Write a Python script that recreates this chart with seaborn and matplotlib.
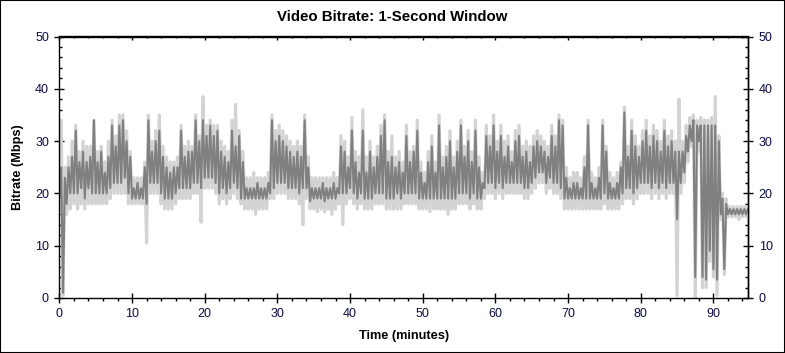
import numpy as np
import pandas as pd
import matplotlib
matplotlib.use("Agg")
import matplotlib.pyplot as plt
import seaborn as sns
from matplotlib.ticker import MultipleLocator
from matplotlib.patches import Rectangle

# ---- data: 0.5-minute bins starting at t = 0.0 ----
bin_minutes = 0.5

dark_hi = [
    25, 23, 25, 27, 32, 26, 28, 26, 27, 34, 26, 28, 24, 27, 33, 29, 33, 34, 30, 27,
    21, 22, 21, 25, 34, 28, 30, 32, 27, 25, 24, 25, 25, 32, 27, 28, 28, 34, 30, 34,
    31, 33, 31, 32, 28, 27, 26, 32, 29, 31, 26, 21, 21, 21, 22, 21, 21, 22, 34, 30,
    31, 30, 29, 28, 27, 28, 27, 34, 25, 21, 21, 21, 22, 21, 21, 22, 21, 29, 28, 25,
    32, 26, 24, 32, 24, 28, 25, 27, 31, 34, 26, 27, 25, 26, 24, 31, 26, 28, 32, 24,
    22, 26, 29, 24, 33, 25, 27, 30, 25, 28, 33, 27, 30, 26, 32, 25, 22, 31, 29, 33,
    28, 31, 27, 29, 26, 30, 31, 27, 28, 26, 29, 30, 29, 28, 27, 31, 29, 34, 33, 23,
    21, 22, 22, 21, 25, 33, 22, 21, 23, 33, 28, 22, 21, 22, 25, 35.5, 27, 32, 29, 27,
    30, 32, 29, 31, 30, 28, 32, 29, 30, 28, 28, 28, 31, 33, 34, 33, 33, 33, 33, 33,
    33, 30, 19, 18, 17, 17, 17, 17, 17, 17,
]
dark_lo = [
    19, 1, 18, 20, 20, 20, 21, 19, 21, 20, 20, 20, 20, 20, 21, 22, 22, 22, 23, 20,
    19, 19, 19, 19, 18, 22, 22, 22, 20, 19, 19, 19, 20, 21, 21, 21, 21, 22, 22, 21,
    23, 23, 23, 22, 20, 21, 20, 21, 22, 21, 19, 19, 19, 19, 19, 19, 19, 19, 20, 21,
    22, 22, 22, 21, 21, 21, 20, 21, 21, 18.5, 19, 19, 19, 18.5, 19, 19, 19, 20, 20, 20,
    21, 20, 19, 20, 19, 19, 19, 20, 20, 20, 19, 19, 19, 20, 19, 20, 20, 20, 20, 19,
    19, 19, 19, 19, 19, 19, 19, 19, 19, 19, 20, 20, 20, 19, 20, 19, 19, 21, 22, 22,
    21, 22, 21, 22, 22, 22, 22, 22, 21, 21, 22, 23, 24, 24, 22, 23, 22, 22, 21, 19,
    19, 19, 19, 19, 19, 19, 19, 19, 19, 19, 20, 19, 19, 19, 19, 20, 21, 21, 20, 21,
    22, 22, 22, 21, 22, 21, 22, 21, 22, 22, 15, 22, 24, 28, 30, 4, 30, 4, 3.5, 9,
    5.5, 3.5, 16, 5.5, 16, 16, 16, 16, 16, 16,
]
light_hi = [
    34, 25, 27, 30, 33, 28, 30, 29, 29, 34, 28, 29, 26, 30, 34, 31, 35, 35, 32, 28,
    23, 23, 23, 26, 35, 30, 32, 35, 29, 27, 26, 26, 27, 33, 29, 30, 29, 35, 31, 38.5,
    33, 34, 33, 33, 30, 29, 28, 34, 37, 32, 28, 23, 23, 24, 23, 23, 23, 24, 35, 32,
    33, 32, 31, 30, 29, 30, 29, 35, 27, 23, 23, 23, 23, 23, 23, 24, 23, 31, 30, 27,
    34.5, 28, 27, 36, 27, 30, 27, 29, 33, 35, 28, 31, 27, 28, 26, 33, 28, 29, 34, 26,
    24, 28, 31, 26, 35, 27, 29, 32, 27, 30, 34, 29, 32, 28, 34, 27, 24, 33, 31, 35,
    30, 33, 30, 31, 28, 32, 33, 29, 30, 29, 31, 32, 31, 30, 29, 33, 31, 35, 34, 25,
    23, 24, 24, 23, 27, 34, 24, 23, 25, 34, 29, 24, 23, 24, 26, 36.5, 29, 34, 31, 29,
    32, 34, 31, 33, 32, 30, 34, 31, 32, 30, 38, 30, 33, 34.5, 35, 34, 34.5, 34, 34, 34.5,
    38.5, 31, 20, 19, 17.5, 17.5, 17.5, 17.5, 17.5, 17.5,
]
light_lo = [
    17, 0.5, 16, 17, 18, 17, 18, 17, 18, 18, 18, 18, 18, 18, 19, 20, 20, 20, 20, 18,
    18, 18, 18, 18, 10.5, 20, 20, 20, 18, 17, 17, 17, 18, 19, 19, 19, 19, 20, 20, 14.5,
    21, 21, 21, 20, 18, 19, 18, 19, 20, 19, 18, 17, 17, 17, 16, 17, 17, 17, 19, 19,
    20, 20, 20, 19, 19, 19, 18, 14, 19, 17, 17, 16.5, 17, 16.5, 17, 16, 17, 18, 14, 18,
    19, 18, 17, 18, 17, 17, 17, 18, 18, 18, 17, 17, 17, 17, 17, 18, 18, 18, 18, 17,
    17, 17, 16.5, 17, 17, 17, 17, 16, 17, 17, 18, 18, 18, 17, 18, 17, 17, 19, 20, 20,
    19, 20, 19, 20, 20, 20, 20, 20, 19, 19, 20, 21, 22, 22, 20, 21, 20, 20, 19, 17,
    17, 17, 17, 17, 17, 17, 17, 17, 17, 17, 18, 17, 17, 17, 17, 18, 19, 19, 18, 19,
    20, 20, 20, 19, 20, 19, 20, 19, 20, 20, 0.5, 20, 22, 26, 29, 0, 28, 2, 2, 7,
    4, 0.5, 15, 4.5, 15.5, 15.5, 15.5, 15, 15.5, 15.5,
]

x_ticks = [0, 10, 20, 30, 40, 50, 60, 70, 80, 90]
y_ticks = [0, 10, 20, 30, 40, 50]


def zigzag(lo, hi):
    t = np.arange(len(lo)) * bin_minutes
    x = np.column_stack([t, t + bin_minutes / 2]).ravel()
    y = np.column_stack([lo, hi]).ravel()
    return pd.DataFrame({"t": x, "v": y})


df_light = zigzag(light_lo, light_hi)
df_dark = zigzag(dark_lo, dark_hi)

sns.set_theme(style="ticks")
plt.rcParams["font.family"] = ["Liberation Sans", "DejaVu Sans"]
plt.rcParams["axes.edgecolor"] = "black"
plt.rcParams["xtick.color"] = "black"
plt.rcParams["ytick.color"] = "black"

W, H = 785, 353
fig = plt.figure(figsize=(W / 100, H / 100), dpi=100)
L, R, T, B = 59.4, 748.3, 36.5, 298.0
ax = fig.add_axes([L / W, (H - B) / H, (R - L) / W, (B - T) / H])

sns.lineplot(data=df_light, x="t", y="v", color="#d3d3d3", lw=2.3,
             estimator=None, sort=False, ax=ax)
sns.lineplot(data=df_dark, x="t", y="v", color="#808080", lw=1.5,
             estimator=None, sort=False, ax=ax)

ax.set_xlim(0, 94.8)
ax.set_ylim(0, 50)
for s in ax.spines.values():
    s.set_linewidth(1.0)
    s.set_color("black")

lab_color = "#0b0b45"
fs = 9

ax.set_xticks(x_ticks)
ax.set_yticks(y_ticks)
ax.xaxis.set_minor_locator(MultipleLocator(2))
ax.yaxis.set_minor_locator(MultipleLocator(2))
ax.tick_params(axis="x", which="major", direction="inout", length=7, width=1,
               labelsize=fs, labelcolor=lab_color, pad=4)
ax.tick_params(axis="x", which="minor", direction="out", length=2, width=1)
ax.tick_params(axis="y", which="major", direction="inout", length=7, width=1,
               labelsize=fs, labelcolor=lab_color, pad=4)
ax.tick_params(axis="y", which="minor", direction="in", length=2, width=1)

secx = ax.secondary_xaxis("top")
secx.set_xticks(x_ticks)
secx.xaxis.set_minor_locator(MultipleLocator(2))
secx.tick_params(axis="x", which="major", direction="in", length=3, width=1,
                 labeltop=False)
secx.tick_params(axis="x", which="minor", direction="in", length=1.7, width=1)

secy = ax.secondary_yaxis("right")
secy.set_yticks(y_ticks)
secy.yaxis.set_minor_locator(MultipleLocator(2))
secy.tick_params(axis="y", which="major", direction="inout", length=7, width=1,
                 labelsize=fs, labelcolor=lab_color, pad=4)
secy.tick_params(axis="y", which="minor", direction="in", length=2, width=1)
for s in list(secx.spines.values()) + list(secy.spines.values()):
    s.set_linewidth(1.0)
    s.set_color("black")

ax.set_xlabel("Time (minutes)", fontsize=9.2, fontweight="bold", color="black",
              va="center")
ax.xaxis.set_label_coords(0.5, (B - 336) / (B - T))
ax.set_ylabel("Bitrate (Mbps)", fontsize=9.2, fontweight="bold", color="black",
              va="center")
ax.yaxis.set_label_coords((18 - L) / (R - L), 0.5)

fig.text(392 / W, 1 - 17 / H, "Video Bitrate: 1-Second Window", ha="center",
         va="center", fontsize=10.8, fontweight="bold", color="black")

fig.add_artist(Rectangle((0, 0), 1, 1, transform=fig.transFigure, fill=False,
                         edgecolor="black", lw=1.5))

fig.savefig("out.png", dpi=100, facecolor="white")
